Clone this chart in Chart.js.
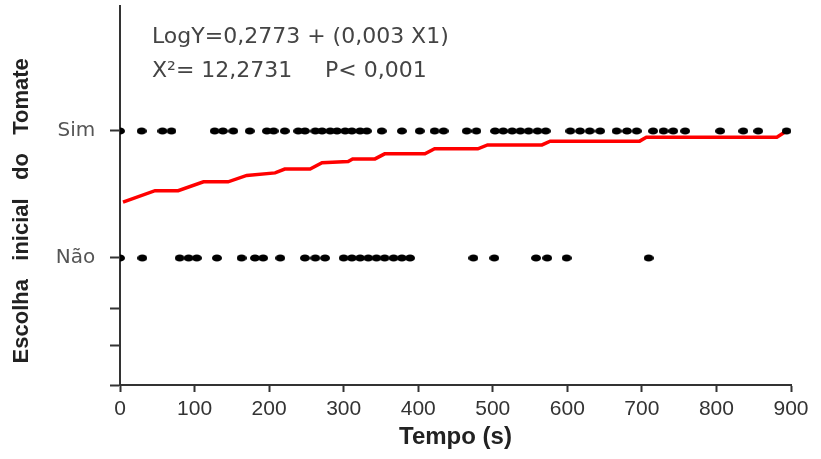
<!DOCTYPE html>
<html>
<head>
<meta charset="utf-8">
<script src="https://cdn.jsdelivr.net/npm/chart.js@4/dist/chart.umd.min.js"></script>
<style>
  body { margin: 0; background: #fff; }
  #wrap { width: 821px; height: 459px; }
</style>
</head>
<body>
<div id="wrap"><canvas id="logChart" width="821" height="459"></canvas></div>
<script>
// observed times (s) for each initial choice
const simTimes = [0, 29, 57, 69, 127, 138, 152, 174, 197, 206, 221, 239, 248, 262, 271, 282, 291, 302, 311, 322, 331,
    351, 378, 402, 422, 434, 465, 478, 503, 514, 526, 537, 548, 560, 571, 604, 617, 630, 644, 666, 680, 693,
    715, 729, 742, 758, 805, 836, 856, 894];
const naoTimes = [0, 30, 80, 92, 103, 130, 163, 181, 192, 215, 248, 262, 275, 300, 311, 322, 333, 344, 355, 367,
    378, 389, 474, 502, 558, 573, 599, 709];

// fitted curve
const curveX = [4, 47, 78, 112, 145, 170, 208, 221, 255, 271, 306, 312, 342, 355, 409, 422, 480, 493, 566, 577, 697, 706, 881, 894];
const curveY = [0.44, 0.53, 0.53, 0.60, 0.60, 0.65, 0.67, 0.70, 0.70, 0.75, 0.76, 0.78, 0.78, 0.82, 0.82, 0.86, 0.86, 0.89, 0.89, 0.92, 0.92, 0.95, 0.95, 1.0];

const yMin = -1;
const yMax = 1.984;
const yTickValues = [-1, -0.69, -0.4, 0, 1];
const yTickLabels = { "0": "Não", "1": "Sim" };
const xTicks = [0, 100, 200, 300, 400, 500, 600, 700, 800, 900];

const eqLine1 = "LogY=0,2773 + (0,003 X1)";
const eqLine2a = "X²= 12,2731";
const eqLine2b = "P< 0,001";

// black oval marker
const dot = document.createElement("canvas");
dot.width = 10;
dot.height = 8;
const dctx = dot.getContext("2d");
dctx.fillStyle = "#000";
dctx.beginPath();
dctx.ellipse(5, 4, 5, 3.6, 0, 0, Math.PI * 2);
dctx.fill();

const equationText = {
    id: "equationText",
    afterDraw(chart) {
        const ctx = chart.ctx;
        ctx.save();
        ctx.fillStyle = "#444";
        ctx.font = "22px 'DejaVu Sans'";
        ctx.textBaseline = "alphabetic";
        ctx.textAlign = "left";
        ctx.fillText(eqLine1, 152, 43);
        ctx.fillText(eqLine2a, 152, 77);
        ctx.fillText(eqLine2b, 325, 77);
        ctx.restore();
    }
};

const ctx = document.getElementById("logChart").getContext("2d");

new Chart(ctx, {
    type: "scatter",
    data: {
        datasets: [
            {
                label: "Sim",
                data: simTimes.map(t => ({ x: t, y: 1 })),
                pointStyle: dot,
                order: 1
            },
            {
                label: "Não",
                data: naoTimes.map(t => ({ x: t, y: 0 })),
                pointStyle: dot,
                order: 1
            },
            {
                type: "line",
                label: "Ajuste",
                data: curveX.map((x, i) => ({ x, y: curveY[i] })),
                borderColor: "#ff0000",
                borderWidth: 3.5,
                pointRadius: 0,
                tension: 0,
                fill: false,
                order: 2
            }
        ]
    },
    options: {
        responsive: false,
        animation: false,
        layout: { padding: { top: 6, right: 30, left: 0, bottom: 0 } },
        plugins: {
            legend: { display: false },
            tooltip: { enabled: false }
        },
        scales: {
            x: {
                type: "linear",
                min: 0,
                max: 900,
                afterBuildTicks: axis => { axis.ticks = xTicks.map(v => ({ value: v })); },
                afterFit: scale => { scale.height = 74; },
                ticks: {
                    autoSkip: false,
                    maxRotation: 0,
                    padding: 5,
                    color: "#333",
                    font: { family: "'Liberation Sans Narrow', 'Liberation Sans'", size: 21 }
                },
                grid: {
                    drawOnChartArea: false,
                    tickLength: 7,
                    tickColor: "#333",
                    tickWidth: 2
                },
                border: { color: "#333", width: 2 },
                title: {
                    display: true,
                    text: "Tempo (s)",
                    color: "#222",
                    padding: { top: 0, bottom: 7 },
                    font: { family: "'Liberation Sans'", size: 24, weight: "bold" }
                }
            },
            y: {
                type: "linear",
                min: yMin,
                max: yMax,
                afterBuildTicks: axis => { axis.ticks = yTickValues.map(v => ({ value: v })); },
                afterFit: scale => { scale.width = 120; },
                ticks: {
                    // tick padding also pads the top of the plot, so the gap is made with spaces
                    padding: 2,
                    color: "#555",
                    font: { family: "'DejaVu Sans'", size: 20, lineHeight: 0.2 },
                    callback: v => yTickLabels[String(v)] ? yTickLabels[String(v)] + "  " : ""
                },
                grid: {
                    drawOnChartArea: false,
                    tickLength: 10,
                    tickColor: "#333",
                    tickWidth: 2
                },
                border: { color: "#333", width: 2 },
                title: {
                    display: true,
                    text: "Escolha   inicial   do   Tomate     ",
                    color: "#222",
                    padding: { top: 9, bottom: 0 },
                    font: { family: "'Liberation Sans'", size: 22, weight: "bold" }
                }
            }
        }
    },
    plugins: [equationText]
});
</script>
</body>
</html>
